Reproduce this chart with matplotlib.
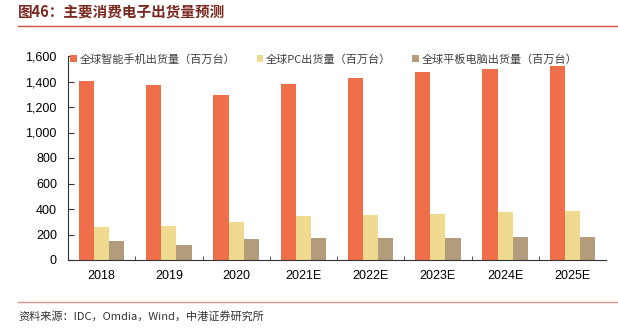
import matplotlib
matplotlib.use("Agg")
import matplotlib.pyplot as plt
from matplotlib.patches import Patch
import numpy as np

plt.rcParams['font.family'] = ['Liberation Sans', 'Noto Sans CJK SC', 'DejaVu Sans']

categories = ['2018', '2019', '2020', '2021E', '2022E', '2023E', '2024E', '2025E']
smartphone = [1406, 1370, 1294, 1380, 1425, 1475, 1495, 1519]
pc = [256, 266, 298, 342, 353, 363, 374, 384]
tablet = [146, 115, 165, 170, 172, 172, 178, 178]
series_names = ['全球智能手机出货量（百万台）', '全球PC出货量（百万台）', '全球平板电脑出货量（百万台）']
colors = ['#EE6F4A', '#F0DA90', '#B39C7C']
title = '图46：主要消费电子出货量预测'
source = '资料来源：IDC，Omdia，Wind，中港证券研究所'

W, H = 618, 330
fig = plt.figure(figsize=(W / 100, H / 100), dpi=100)

ax_l, ax_r, ax_b, ax_t = 68, 606, 260, 56
ax = fig.add_axes([ax_l / W, 1 - ax_b / H, (ax_r - ax_l) / W, (ax_b - ax_t) / H])

x = np.arange(len(categories))
bw = 0.225
for i, (vals, c) in enumerate(zip([smartphone, pc, tablet], colors)):
    ax.bar(x + (i - 1) * bw, vals, width=bw, color=c, edgecolor='none')

ax.set_xlim(-0.5, len(categories) - 0.5)
ax.set_ylim(0, 1600)
ax.set_yticks(np.arange(0, 1601, 200))
ax.set_yticklabels([f'{v:,}' for v in range(0, 1601, 200)], fontsize=9)
ax.set_xticks(x)
ax.set_xticklabels(categories, fontsize=9)
ax.set_xticks(np.arange(0.5, len(categories) - 0.5, 1), minor=True)
ax.tick_params(axis='x', which='major', length=0, pad=7)
ax.tick_params(axis='x', which='minor', length=3, direction='in', color='#333333')
ax.tick_params(axis='y', length=4, direction='in', color='#333333', pad=8)
for s in ['top', 'right']:
    ax.spines[s].set_visible(False)
for s in ['left', 'bottom']:
    ax.spines[s].set_color('#333333')
    ax.spines[s].set_linewidth(0.8)

handles = [Patch(facecolor=c, edgecolor='none') for c in colors]
leg = ax.legend(handles, series_names, loc='center left', bbox_to_anchor=(0.0, 0.985), ncol=3,
                frameon=False, handlelength=0.6, handleheight=0.6,
                handletextpad=0.25, columnspacing=1.9, borderaxespad=0, borderpad=0.2,
                prop={'family': ['Noto Sans CJK SC', 'DejaVu Sans'], 'size': 8})
for t in leg.get_texts():
    t.set_color('#404040')

fig.text(18 / W, 1 - 13 / H, title, fontsize=10.5, fontweight='bold', color='#7B2A20',
         va='center', ha='left', family=['Noto Sans CJK SC', 'DejaVu Sans'])
fig.add_artist(plt.Line2D([18 / W, 1], [1 - 25.5 / H] * 2, color='#C9503A', lw=1.0))
fig.add_artist(plt.Line2D([18 / W, 1], [1 - 302 / H] * 2, color='#D8978A', lw=1.0))
fig.text(18 / W, 1 - 316 / H, source, fontsize=8, style='italic', color='#333333',
         va='center', ha='left', family=['Noto Sans CJK SC', 'DejaVu Sans'])

fig.savefig('out.png', dpi=100)
